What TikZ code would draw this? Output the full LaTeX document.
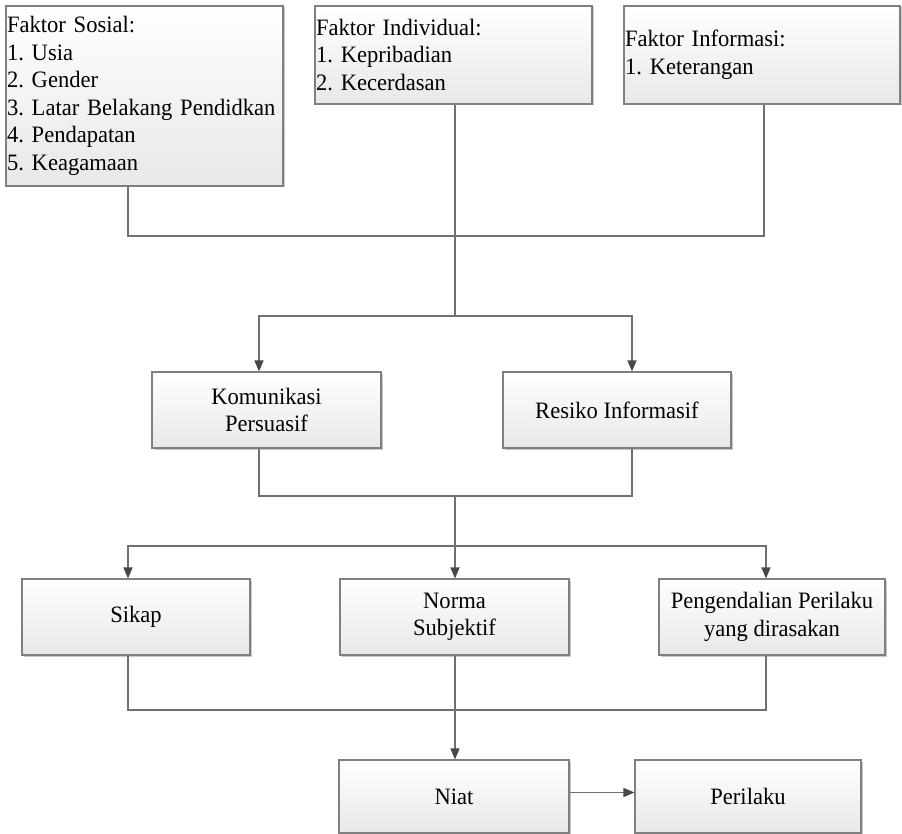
\documentclass[tikz,border=0pt]{standalone}
\usepackage{fontspec}
\setmainfont{Liberation Serif}[FakeStretch=0.96]
\usetikzlibrary{arrows.meta,shadows}
\tikzset{
  box/.style={draw=black!50, line width=1.1pt, rectangle,
    top color=white, bottom color=black!9,
    drop shadow={shadow xshift=1.5pt, shadow yshift=-1.5pt, opacity=0.22, fill=black},
    font=\fontsize{23.5}{27.5}\selectfont, align=center, inner sep=0pt},
  leftbox/.style={box, align=left, inner xsep=1pt},
  wire/.style={draw=black!56, line width=1.3pt},
  arrow/.style={wire, -{Triangle[length=11pt,width=9pt,fill=black!72,color=black!72]}}
}
\begin{document}
\frenchspacing
\hyphenpenalty=10000
\begin{tikzpicture}[x=1pt,y=-1pt]
\useasboundingbox (0,0) rectangle (902,834);

% factor boxes
\node[leftbox, minimum width=277, minimum height=180, text width=275] (sos) at (144.5,96)
  {Faktor Sosial:\\1. Usia\\2. Gender\\3. Latar Belakang Pendidkan\\4. Pendapatan\\5. Keagamaan};
\node[leftbox, minimum width=277, minimum height=98, text width=275] (ind) at (453.5,55)
  {Faktor Individual:\\1. Kepribadian\\2. Kecerdasan};
\node[leftbox, minimum width=276, minimum height=98, text width=274] (inf) at (762,55)
  {Faktor Informasi:\\1. Keterangan};

% intermediate boxes
\node[box, minimum width=229, minimum height=76] (kom) at (266.5,410) {Komunikasi\\Persuasif};
\node[box, minimum width=228, minimum height=76] (res) at (617,410) {Resiko Informasif};

\node[box, minimum width=228, minimum height=76] (sik) at (136,617) {Sikap};
\node[box, minimum width=229, minimum height=76] (nor) at (454.5,617) {Norma\\Subjektif};
\node[box, minimum width=226, minimum height=76] (pen) at (772,617) {Pengendalian Perilaku\\yang dirasakan};

\node[box, minimum width=230, minimum height=73] (nia) at (454,796.5) {Niat};
\node[box, minimum width=226, minimum height=73] (per) at (748,796.5) {Perilaku};

% junction points of the connector buses
\coordinate (t1) at (128,236); \coordinate (t2) at (455,236); \coordinate (t3) at (764,236);
\coordinate (s1) at (259,316); \coordinate (s2) at (455,316); \coordinate (s3) at (632,316);
\coordinate (m1) at (259,496); \coordinate (m2) at (455,496); \coordinate (m3) at (632,496);
\coordinate (u1) at (128,546); \coordinate (u2) at (455,546); \coordinate (u3) at (766,546);
\coordinate (v1) at (128,710); \coordinate (v2) at (455,710); \coordinate (v3) at (766,710);

% connectors
\draw[wire] (sos.south -| t1) -- (t1) -- (t3) -- (inf.south -| t3);
\draw[wire] (ind.south -| t2) -- (s2);
\draw[arrow] (s2) -- (s1) -- (kom.north -| s1);
\draw[arrow] (s2) -- (s3) -- (res.north -| s3);
\draw[wire] (kom.south -| m1) -- (m1) -- (m3) -- (res.south -| m3);
\draw[wire] (m2) -- (u2);
\draw[arrow] (u2) -- (u1) -- (sik.north -| u1);
\draw[arrow] (u2) -- (nor.north -| u2);
\draw[arrow] (u2) -- (u3) -- (pen.north -| u3);
\draw[wire] (sik.south -| v1) -- (v1) -- (v3) -- (pen.south -| v3);
\draw[arrow] (nor.south -| v2) -- (nia.north -| v2);
\draw[arrow] ([yshift=4pt]nia.east) -- ([yshift=4pt]per.west);
\end{tikzpicture}
\end{document}
